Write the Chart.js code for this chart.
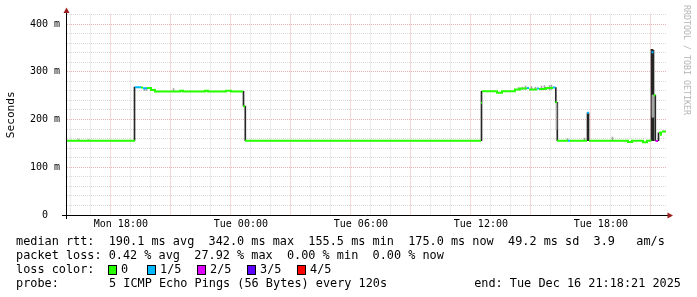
<!DOCTYPE html>
<html><head><meta charset="utf-8">
<script src="https://cdn.jsdelivr.net/npm/chart.js@4/dist/chart.umd.min.js"></script>
<style>
html,body{margin:0;padding:0;background:#fff;width:697px;height:297px;overflow:hidden}
#wrap{position:relative;width:697px;height:297px}
canvas{position:absolute;left:0;top:0}
.t{position:absolute;font-family:"DejaVu Sans Mono",monospace;font-size:11.85px;white-space:pre;color:#000;line-height:14px}
.box{position:absolute;width:7px;height:8px;border:1px solid #000}
#wm{position:absolute;left:687px;top:60px;transform:translate(-50%,-50%) rotate(90deg);font-family:"DejaVu Sans Mono",monospace;font-size:8.3px;white-space:pre;color:#b4b4b4}
</style></head>
<body>
<div id="wrap">
<canvas id="c" width="697" height="297"></canvas>
<div id="wm">RRDTOOL / TOBI OETIKER</div>
<div class="t" style="left:16px;top:234px">median rtt:  190.1 ms avg  342.0 ms max  155.5 ms min  175.0 ms now  49.2 ms sd  3.9   am/s</div>
<div class="t" style="left:16px;top:248px">packet loss: 0.42 % avg  27.92 % max  0.00 % min  0.00 % now</div>
<div class="t" style="left:16px;top:262px">loss color:</div>
<div id="legend"></div>
<div class="t" style="left:16px;top:276px">probe:</div>
<div class="t" style="left:109px;top:276px">5 ICMP Echo Pings (56 Bytes) every 120s</div>
<div class="t" style="right:16px;top:276px">end: Tue Dec 16 21:18:21 2025</div>
</div>
<script>
// time axis: hours since Monday 00:00
const startHour = 15.306;   // Mon 15:18:21
const endHour = 45.306;     // Tue 21:18:21
const xTickHours = [18, 24, 30, 36, 42];
const xTickLabels = ['Mon 18:00', 'Tue 00:00', 'Tue 06:00', 'Tue 12:00', 'Tue 18:00'];
const yTickValues = [0, 100, 200, 300, 400];
const yTickLabels = ['0  ', '100 m', '200 m', '300 m', '400 m'];

// median rtt (ms), step pieces: start hour, value, loss (number of lost pings of 5)
const medianStart = [15.306, 18.706, 19.006, 19.106, 19.306, 19.506, 19.706, 20.956, 21.106, 22.206, 22.356, 23.256, 23.506, 24.106, 24.206, 36.006, 36.056, 36.806, 37.056, 37.706, 37.956, 38.306, 38.406, 38.806, 38.906, 39.256, 39.606, 39.731, 39.806, 40.356, 40.456, 41.306, 41.406, 43.356, 43.556, 44.106, 44.306, 44.531, 44.631, 44.731, 44.856, 44.906, 45.006, 45.056];
const medianEnd = 45.256;
const medianValue = [155.5, 267.5, 267, 265.5, 266, 262, 258.5, 260.5, 258.5, 260.5, 258.5, 260.5, 258.5, 228, 155.5, 235, 259, 256, 259, 263, 265, 266, 263, 265, 264, 266, 267, 236, 155.5, 155.5, 155.5, 214, 155.5, 153, 155.5, 152.5, 155.5, 341, 251, 155, null, 173, 168, 175];
const medianLoss = [0,1,0,1,0,0,0,0,0,0,0,0,0,0,0,0,0,0,0,0,0,1,0,1,0,0,1,0,0,1,0,1,0,0,0,0,0,1,0,2,0,0,0,0];

// smoke (spread of the pings), one column each
const smokeTime = [18.681, 24.131, 24.221, 36.031, 39.746, 39.821, 41.331, 41.381, 44.531, 44.581, 44.631, 44.721, 44.881,
  15.881, 16.381, 19.181, 19.281, 20.631, 37.881, 38.081, 38.231, 38.531, 38.731, 39.031, 39.181, 39.431, 39.531, 39.781, 40.331, 41.181, 42.581, 44.581, 44.631];
const smokeLow = [155.5, 228, 155.5, 155.5, 236, 155.5, 155.5, 155.5, 155.5, 155.5, 155.5, 155.5, 155.5,
  155.5, 155.5, 261, 261, 259, 262, 263, 263, 263, 263, 262, 263, 262, 263, 180, 155.5, 155.5, 155.5, 205, 205];
const smokeHigh = [268, 259, 228, 259, 267, 236, 214, 214, 347, 347, 345, 251, 172,
  159, 158, 266, 266, 265, 267, 268, 270, 269, 268, 270, 271, 271, 272, 235, 160, 161, 163, 251, 251];
const smokeShade = ['d','d','d','d','d','d','d','d','d','d','d','d','d',
  'l','l','l','l','l','l','l','l','l','l','l','l','l','l','l','l','l','l','l','l'];

const lossLabels = ['0', '1/5', '2/5', '3/5', '4/5'];
const lossColors = ['#26ff00', '#00b8ff', '#dd00ff', '#5e00ff', '#ff0000'];

// legend boxes
const legendX = [108, 147, 197, 247, 297];
const lg = document.getElementById('legend');
lossLabels.forEach((l, i) => {
  const b = document.createElement('div');
  b.className = 'box';
  b.style.left = legendX[i] + 'px';
  b.style.top = '265px';
  b.style.background = lossColors[i];
  lg.appendChild(b);
  const t = document.createElement('div');
  t.className = 't';
  t.style.left = (legendX[i] + 13) + 'px';
  t.style.top = '262px';
  t.textContent = l;
  lg.appendChild(t);
});

// build datasets
const datasets = [];
['d', 'l'].forEach(shade => {
  const data = [];
  smokeTime.forEach((t, i) => { if (smokeShade[i] === shade) data.push({x: t, y: [smokeLow[i], smokeHigh[i]]}); });
  datasets.push({type: 'bar', data, backgroundColor: shade === 'd' ? '#262626' : '#a4a4a4',
    barThickness: 1, grouped: false, borderWidth: 0, order: shade === 'd' ? 3 : 2});
});
lossColors.forEach((col, c) => {
  const data = [];
  for (let i = 0; i < medianStart.length; i++) {
    if (medianLoss[i] !== c || medianValue[i] === null) continue;
    const t1 = medianStart[i], t2 = i + 1 < medianStart.length ? medianStart[i + 1] : medianEnd;
    data.push({x: t1, y: medianValue[i]}, {x: t2, y: medianValue[i]});
    const nv = i + 1 < medianValue.length ? medianValue[i + 1] : null;
    if (i + 1 >= medianStart.length || medianLoss[i + 1] !== c || nv === null || Math.abs(nv - medianValue[i]) > 6)
      data.push({x: t2, y: null});
  }
  if (data.length) datasets.push({type: 'line', data, borderColor: col, borderWidth: 2,
    pointRadius: 0, spanGaps: false, tension: 0, borderCapStyle: 'butt', order: 1});
});

const font10 = {family: 'DejaVu Sans Mono', size: 10};
const minorGrid = '#dadada', majorGrid = '#ebb4b4';

const axesPlugin = {
  id: 'axes',
  afterDraw(chart) {
    const ctx = chart.ctx, a = chart.chartArea;
    ctx.save();
    ctx.strokeStyle = '#000'; ctx.lineWidth = 1;
    ctx.beginPath();
    ctx.moveTo(a.left - 5, a.bottom + 0.5); ctx.lineTo(a.right + 2, a.bottom + 0.5);
    ctx.moveTo(a.left - 0.5, a.bottom + 4); ctx.lineTo(a.left - 0.5, a.top - 3);
    ctx.stroke();
    ctx.fillStyle = '#9b1f1f';
    ctx.beginPath();
    ctx.moveTo(a.left - 0.5, a.top - 7); ctx.lineTo(a.left - 3.5, a.top - 1.5); ctx.lineTo(a.left + 2.5, a.top - 1.5); ctx.closePath();
    ctx.fill();
    ctx.beginPath();
    ctx.moveTo(a.right + 6, a.bottom + 0.5); ctx.lineTo(a.right + 0.5, a.bottom - 2.5); ctx.lineTo(a.right + 0.5, a.bottom + 3.5); ctx.closePath();
    ctx.fill();
    ctx.restore();
  }
};

new Chart(document.getElementById('c'), {
  type: 'line',
  data: {datasets},
  plugins: [axesPlugin],
  options: {
    responsive: false, animation: false, devicePixelRatio: 1,
    layout: {padding: {left: 0, top: 14.5, right: 30, bottom: 0}},
    plugins: {legend: {display: false}, tooltip: {enabled: false}},
    scales: {
      x: {
        type: 'linear', min: startHour, max: endHour, offset: false,
        afterBuildTicks: s => { const t = []; for (let h = 16; h <= 45; h++) t.push({value: h}); s.ticks = t; },
        afterFit: s => { s.height = 82; },
        ticks: {autoSkip: false, maxRotation: 0, padding: 3, color: '#000', font: font10,
          callback: v => { const k = xTickHours.indexOf(v); return k >= 0 ? xTickLabels[k] : ''; }},
        grid: {drawTicks: false, lineWidth: 1, color: c => (c.tick && c.tick.value % 3 === 0) ? majorGrid : minorGrid},
        border: {display: false, dash: [1, 1]}
      },
      y: {
        type: 'linear', min: 0, max: 420,
        afterBuildTicks: s => { const t = []; for (let v = 0; v <= 420; v += 20) t.push({value: v}); s.ticks = t; },
        afterFit: s => { s.width = 67; },
        title: {display: true, text: 'Seconds', color: '#000', font: {family: 'DejaVu Sans Mono', size: 11.2},
          padding: {top: 4.3, bottom: 0}},
        ticks: {autoSkip: false, padding: 7, color: '#000', font: font10,
          callback: v => { const k = yTickValues.indexOf(v); return k >= 0 ? yTickLabels[k] : ''; }},
        grid: {drawTicks: false, lineWidth: 1, color: c => (c.tick && c.tick.value % 100 === 0) ? majorGrid : minorGrid},
        border: {display: false, dash: [1, 1]}
      }
    }
  }
});
</script>
</body></html>
